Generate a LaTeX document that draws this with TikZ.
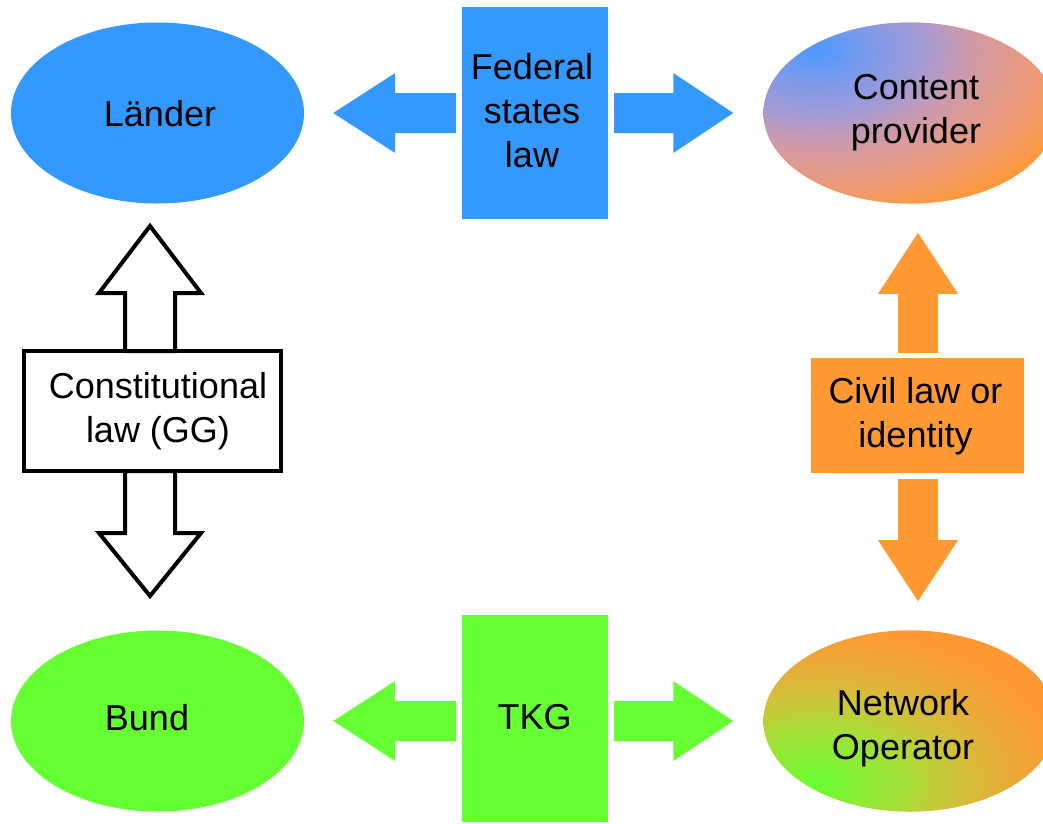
\documentclass[tikz,border=0pt]{standalone}
\usepackage{fontspec}
\setmainfont{Liberation Sans}
\usetikzlibrary{shapes.geometric,calc}
\definecolor{fblue}{HTML}{3399FF}
\definecolor{fgreen}{HTML}{66FF33}
\definecolor{forange}{HTML}{FF9933}
\definecolor{cpA}{HTML}{4D99FF}
\definecolor{cpB}{HTML}{7A9AEB}
\definecolor{cpC}{HTML}{A49BD5}
\definecolor{cpD}{HTML}{C49AB6}
\definecolor{cpE}{HTML}{D89A9C}
\definecolor{cpF}{HTML}{EE9A74}
\definecolor{noA}{HTML}{66FF33}
\definecolor{noB}{HTML}{88EE35}
\definecolor{noC}{HTML}{AADD38}
\definecolor{noD}{HTML}{C2CC3A}
\definecolor{noE}{HTML}{D5BE3A}
\definecolor{noF}{HTML}{EBA837}
\pgfdeclareradialshading{cpshade}{\pgfpoint{0bp}{0bp}}{color(0bp)=(cpA); color(4bp)=(cpB); color(8.5bp)=(cpC); color(11bp)=(cpD); color(13.5bp)=(cpE); color(18bp)=(cpF); color(23bp)=(forange); color(25bp)=(forange); color(50bp)=(forange)}
\pgfdeclareradialshading{noshade}{\pgfpoint{0bp}{0bp}}{color(0bp)=(noA); color(4bp)=(noB); color(8.5bp)=(noC); color(11bp)=(noD); color(13.5bp)=(noE); color(18bp)=(noF); color(23bp)=(forange); color(25bp)=(forange); color(50bp)=(forange)}
% block arrow: #1 style, #2 from, #3 tip, #4 shaft half width, #5 head half width, #6 head length
\newcommand\myblockarrow[6]{%
  \coordinate (bac) at ($(#3)!#6!(#2)$);
  \path[#1] ($(#2)!#4!90:(#3)$) -- ($(bac)!#4!-90:(#2)$) -- ($(bac)!#5!-90:(#2)$) -- (#3)
     -- ($(bac)!#5!90:(#2)$) -- ($(bac)!#4!90:(#2)$) -- ($(#2)!#4!-90:(#3)$) -- cycle;
}
\tikzset{
  ell/.style={ellipse, minimum width=293pt, minimum height=181pt, inner sep=0pt, draw=none},
  lawbox/.style={rectangle, inner sep=0pt, draw=none},
  lbl/.style={font=\fontsize{36}{44}\selectfont, align=center, inner sep=0pt, text=black},
}
\begin{document}
\begin{tikzpicture}[x=1pt,y=-1pt]
\useasboundingbox (0,0) rectangle (1043,823);
\clip (0,0) rectangle (1043,823);
\fill[white] (0,0) rectangle (1043,823);
% ellipses
\node[ell, fill=fblue] (lander) at (157.5,113) {};
\node[ell, fill=fgreen] (bund) at (157.5,721) {};
\node[ell, fill=forange, path picture={\shade[shading=cpshade] ($(path picture bounding box.center)+(-93,-63)$) ellipse [x radius=315pt, y radius=194pt];}] (cp) at (910,113) {};
\node[ell, fill=forange, path picture={\shade[shading=noshade] ($(path picture bounding box.center)+(-93,62)$) ellipse [x radius=275pt, y radius=170pt];}] (no) at (910,721) {};
% boxes
\node[lawbox, fill=fblue, minimum width=146pt, minimum height=212pt] (fed) at (535,113) {};
\node[lawbox, fill=fgreen, minimum width=146pt, minimum height=207pt] (tkg) at (535,718.5) {};
\node[lawbox, fill=forange, minimum width=213pt, minimum height=115pt] (civ) at (917.5,415.5) {};
\node[rectangle, draw=black, fill=white, line width=4pt, minimum width=257pt, minimum height=120pt, inner sep=0pt] (gg) at (152.5,411) {};
% arrow end points
\coordinate (f1s) at ($(fed.west)+(-6,0)$);
\coordinate (f1t) at ($(lander.east)+(29,0)$);
\coordinate (f2s) at ($(fed.east)+(6,0)$);
\coordinate (f2t) at ($(cp.west)+(-30,0)$);
\coordinate (t1s) at ($(tkg.west)+(-6,2.5)$);
\coordinate (t1t) at ($(bund.east)+(29,0)$);
\coordinate (t2s) at ($(tkg.east)+(6,2.5)$);
\coordinate (t2t) at ($(no.west)+(-30,0)$);
\coordinate (c1s) at ($(civ.north)+(0.5,-5)$);
\coordinate (c1t) at ($(civ.north)+(0.5,-125)$);
\coordinate (c2s) at ($(civ.south)+(0.5,6)$);
\coordinate (c2t) at ($(civ.south)+(0.5,128)$);
\coordinate (g1s) at ($(gg.north)+(-2.5,2)$);
\coordinate (g1t) at ($(gg.north)+(-2.5,-123)$);
\coordinate (g2s) at ($(gg.south)+(-2.5,-2)$);
\coordinate (g2t) at ($(gg.south)+(-2.5,123)$);
% filled arrows
\myblockarrow{fill=fblue}{f1s}{f1t}{20pt}{40pt}{62pt}
\myblockarrow{fill=fblue}{f2s}{f2t}{20pt}{40pt}{60pt}
\myblockarrow{fill=fgreen}{t1s}{t1t}{20pt}{40pt}{62pt}
\myblockarrow{fill=fgreen}{t2s}{t2t}{20pt}{40pt}{60pt}
\myblockarrow{fill=forange}{c1s}{c1t}{20pt}{40pt}{61pt}
\myblockarrow{fill=forange}{c2s}{c2t}{20pt}{40pt}{61pt}
% hollow arrows
\myblockarrow{draw=black, fill=white, line width=4pt, miter limit=10}{g1s}{g1t}{25pt}{51pt}{67pt}
\myblockarrow{draw=black, fill=white, line width=4pt, miter limit=10}{g2s}{g2t}{25pt}{51pt}{63pt}
% texts
\node[lbl] (ltext) at (160,113.5) {Länder};
\node[lbl] (btext) at (147,718) {Bund};
\node[lbl] (cptext) at (916,112.8) {Content\\provider};
\node[lbl] (notext) at (903,728.5) {Network\\Operator};
\node[lbl] (fedtext) at (532,111) {Federal\\states\\law};
\node[lbl] (tkgtext) at (534.5,717.5) {TKG};
\node[lbl] (ggtext) at (158,410.7) {Constitutional\\law (GG)};
\node[lbl] (civtext) at (915.5,416.3) {Civil law or\\identity};
\end{tikzpicture}
\end{document}
